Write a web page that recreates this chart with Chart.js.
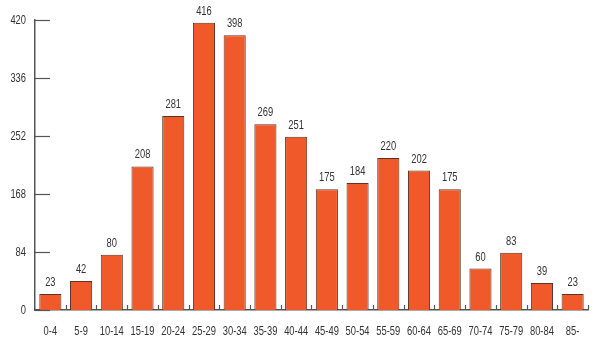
<!DOCTYPE html>
<html>
<head>
<meta charset="utf-8">
<script src="https://cdn.jsdelivr.net/npm/chart.js@4.4.0/dist/chart.umd.min.js"></script>
<style>
  html, body { margin: 0; padding: 0; background: #fff; }
  #wrap { width: 600px; height: 341px; position: relative; }
</style>
</head>
<body>
<div id="wrap"><canvas id="chart"></canvas></div>
<script>
var AGE_GROUPS = ['0-4', '5-9', '10-14', '15-19', '20-24', '25-29', '30-34', '35-39', '40-44',
  '45-49', '50-54', '55-59', '60-64', '65-69', '70-74', '75-79', '80-84', '85-'];
var COUNTS = [23, 42, 80, 208, 281, 416, 398, 269, 251, 175, 184, 220, 202, 175, 60, 83, 39, 23];
var Y_TICKS = [0, 84, 168, 252, 336, 420];

var FONT = "'Liberation Sans', Arial, sans-serif";
var SQUEEZE = 0.72;
var BAR = '#F0592A';
var EDGE = '#5b3326';
var AXIS = '#555';

// the source uses a condensed face; squeeze glyphs horizontally around their anchor
var narrow = {
  id: 'narrow',
  beforeInit: function (chart) {
    var ctx = chart.ctx;
    var fill = ctx.fillText;
    ctx.fillText = function (text, x, y, maxW) {
      this.save();
      this.translate(x, y);
      this.scale(SQUEEZE, 1);
      if (maxW !== undefined) fill.call(this, text, 0, 0, maxW / SQUEEZE);
      else fill.call(this, text, 0, 0);
      this.restore();
    };
  }
};

// inward tick marks on both axes, value labels over bars
var decor = {
  id: 'decor',
  afterDatasetsDraw: function (chart) {
    var ctx = chart.ctx;
    var x = chart.scales.x, y = chart.scales.y;
    var area = chart.chartArea;
    var step = x.getPixelForValue(1) - x.getPixelForValue(0);
    ctx.save();
    ctx.strokeStyle = AXIS;
    ctx.lineWidth = 1.2;
    Y_TICKS.forEach(function (v) {
      var py = Math.round(y.getPixelForValue(v)) + 0.5;
      ctx.beginPath();
      ctx.moveTo(area.left, py);
      ctx.lineTo(area.left + 15, py);
      ctx.stroke();
    });
    for (var i = 0; i < AGE_GROUPS.length; i++) {
      var px = Math.round(x.getPixelForValue(i) + step / 2) + 0.5;
      ctx.beginPath();
      ctx.moveTo(px, area.bottom);
      ctx.lineTo(px, area.bottom - 5);
      ctx.stroke();
    }
    ctx.fillStyle = '#333';
    ctx.font = '13px ' + FONT;
    ctx.textAlign = 'center';
    ctx.textBaseline = 'bottom';
    var meta = chart.getDatasetMeta(0);
    meta.data.forEach(function (bar, i) {
      ctx.fillText(String(COUNTS[i]), bar.x, bar.y - 5);
    });
    ctx.restore();
  }
};

new Chart(document.getElementById('chart'), {
  type: 'bar',
  data: {
    labels: AGE_GROUPS,
    datasets: [{
      data: COUNTS,
      backgroundColor: BAR,
      borderColor: EDGE,
      borderWidth: 1,
      borderSkipped: 'bottom',
      barPercentage: 0.72,
      categoryPercentage: 1.0
    }]
  },
  options: {
    responsive: true,
    maintainAspectRatio: false,
    animation: false,
    layout: { padding: { top: 20, right: 12, left: 0, bottom: 0 } },
    plugins: { legend: { display: false }, tooltip: { enabled: false } },
    scales: {
      x: {
        grid: { display: false, drawTicks: false },
        border: { display: true, color: AXIS, width: 1.5 },
        ticks: { color: '#333', font: { size: 13, family: FONT }, padding: 14, maxRotation: 0, autoSkip: false },
        afterFit: function (s) { s.height = 31; }
      },
      y: {
        min: 0,
        max: 420,
        afterBuildTicks: function (s) { s.ticks = Y_TICKS.map(function (v) { return { value: v }; }); },
        grid: { display: false, drawTicks: false },
        border: { display: true, color: AXIS, width: 1.5 },
        ticks: { color: '#333', font: { size: 13, family: FONT }, padding: 9 },
        afterFit: function (s) { s.width = 35; }
      }
    }
  },
  plugins: [narrow, decor]
});
</script>
</body>
</html>
